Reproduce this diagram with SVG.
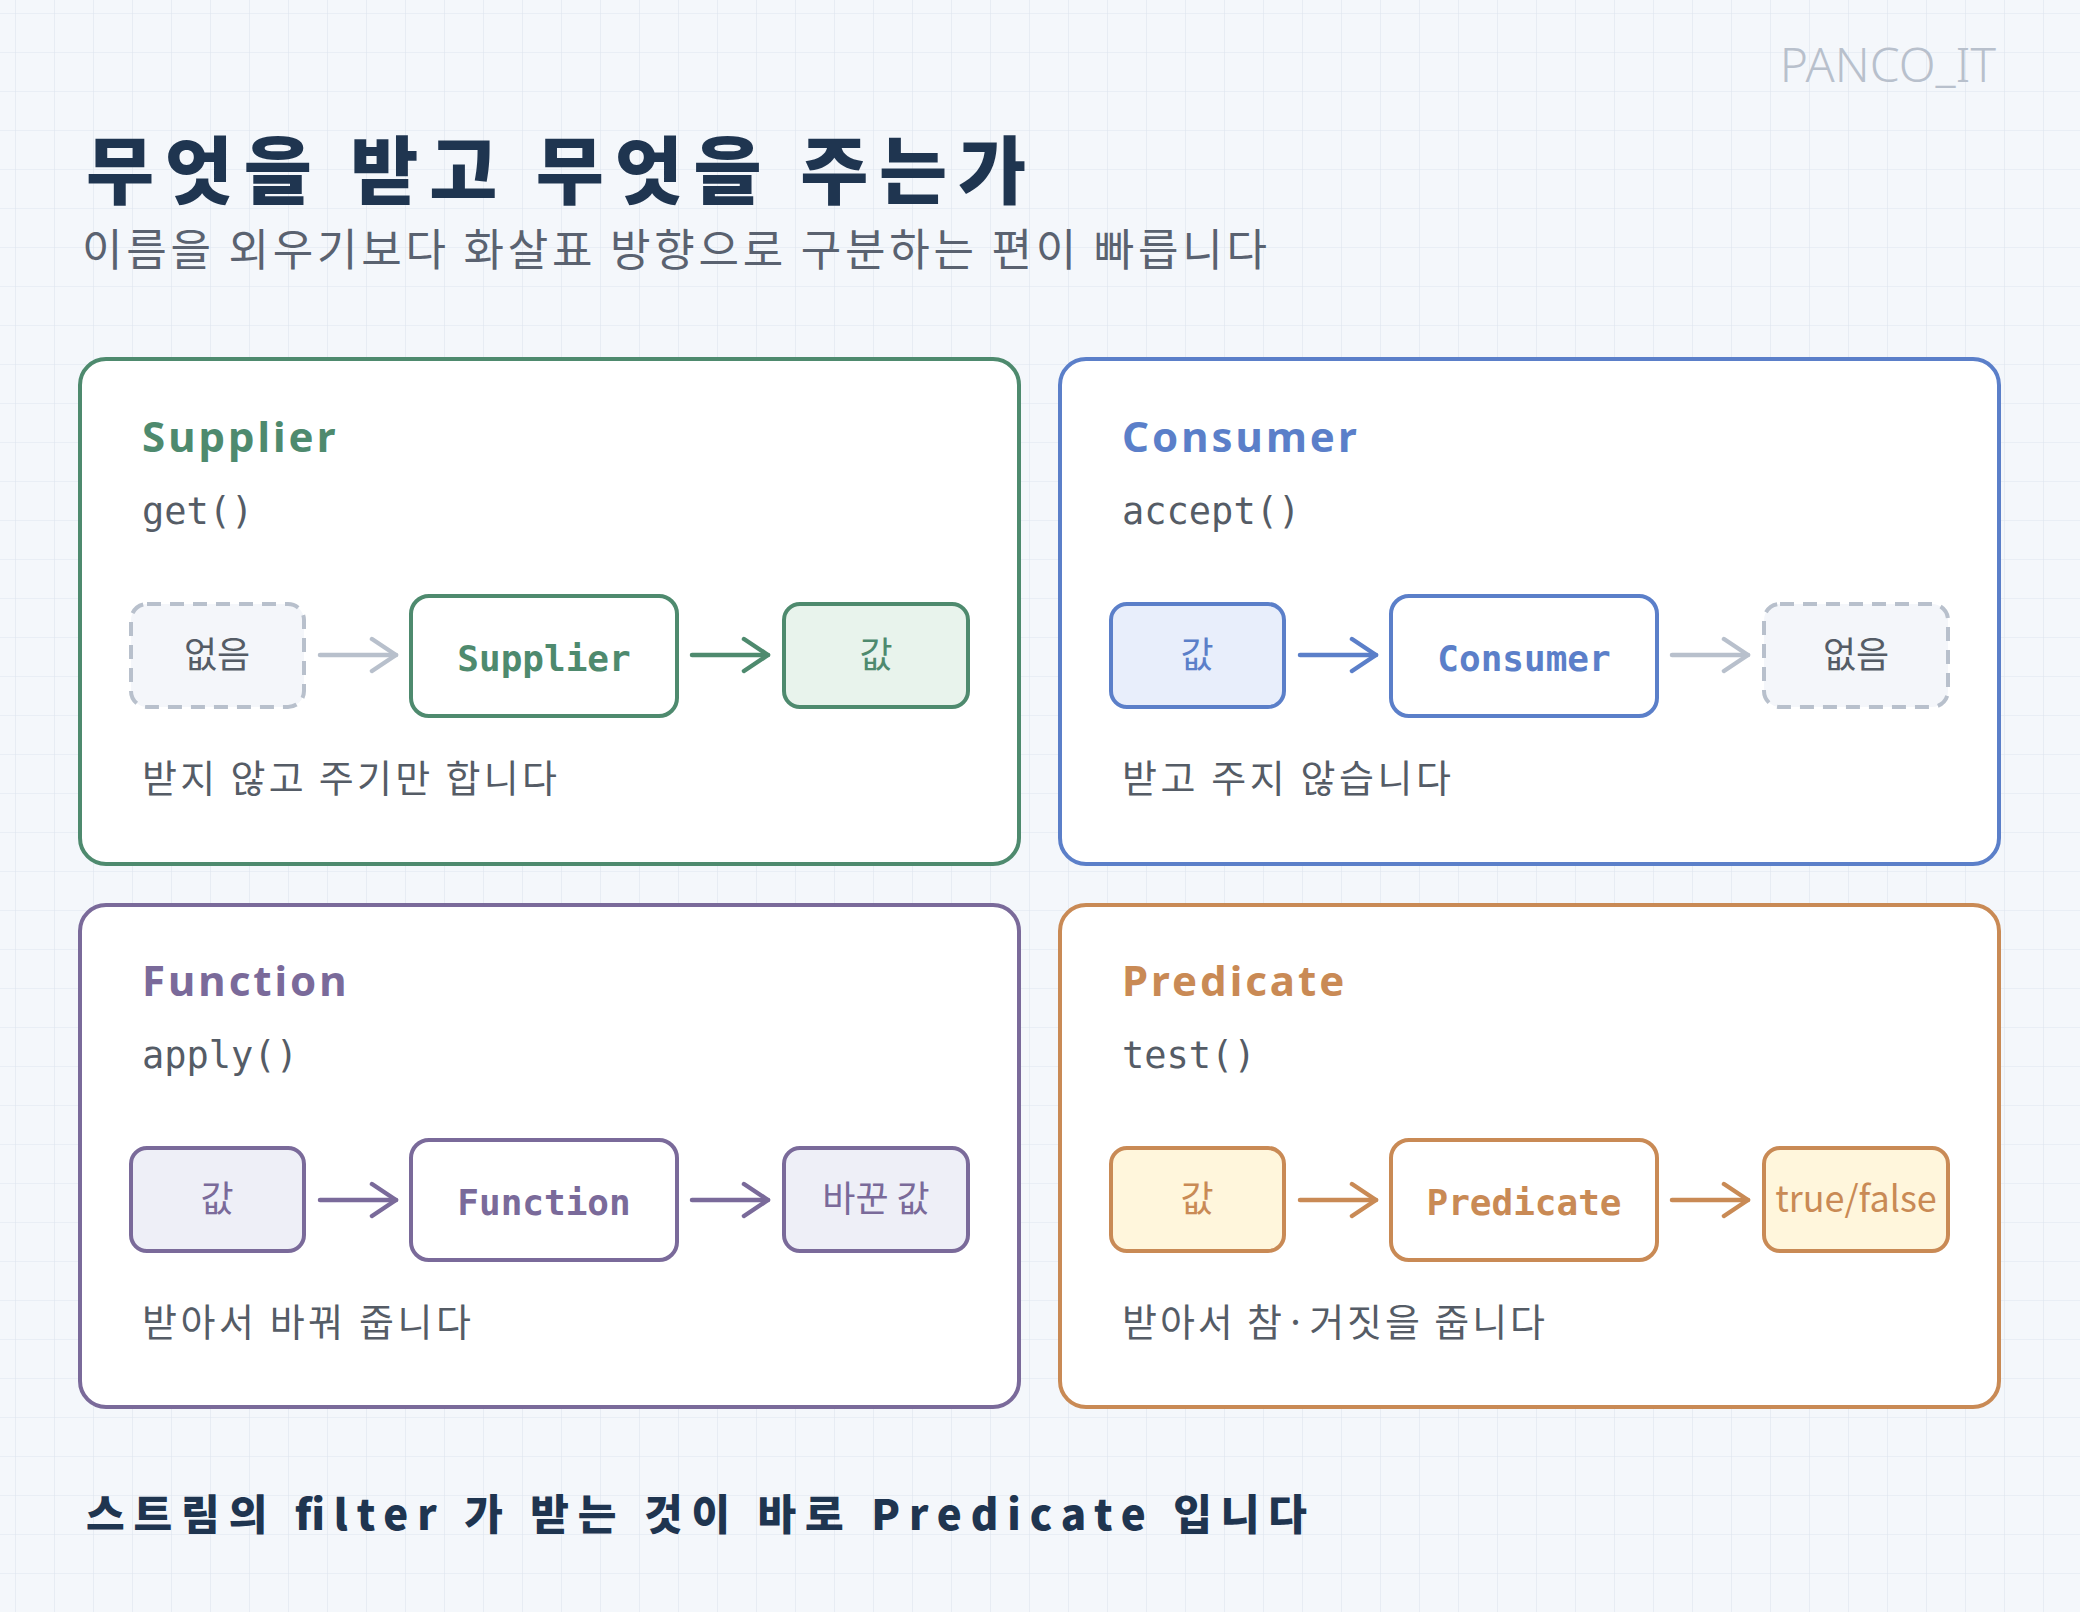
<svg xmlns="http://www.w3.org/2000/svg" width="2080" height="1612" viewBox="0 0 2080 1612">
<defs>
<pattern id="grid" width="39" height="39" patternUnits="userSpaceOnUse" x="15" y="13">
<path d="M39 0H0V39" fill="none" stroke="#dde5ef" stroke-width="1.2"/>
</pattern>
<marker id="ag" viewBox="0 0 30 40" refX="27" refY="20" markerWidth="30" markerHeight="40" markerUnits="userSpaceOnUse" orient="auto"><path d="M3 4L27 20L3 36" fill="none" stroke="context-stroke" stroke-width="4.5" stroke-linecap="round" stroke-linejoin="round"/></marker>
</defs>
<style>
.ko{font-family:"Noto Sans CJK KR","Noto Sans",sans-serif}
.title{font-family:"Noto Sans CJK KR",sans-serif;font-weight:900;fill:#1f3550}
.hand{font-family:"Noto Sans","Noto Sans CJK KR",sans-serif;font-weight:700;letter-spacing:3px}
.mono{font-family:"DejaVu Sans Mono",monospace;font-weight:700}
.panel{fill:#fff;stroke-width:4}
.box{stroke-width:4}
.lbl{font-family:"Noto Sans CJK KR","Noto Sans",sans-serif;font-size:36px;text-anchor:middle}
.method{font-family:"DejaVu Sans Mono",monospace;font-size:37px;fill:#555c66}
.cap{font-family:"Noto Sans CJK KR",sans-serif;font-size:38px;fill:#555c66}
.arr{stroke-width:4.5;stroke-linecap:round;fill:none;marker-end:url(#ag)}
</style>
<rect width="2080" height="1612" fill="#f4f7fb"/>
<rect width="2080" height="1612" fill="url(#grid)"/>
<text x="1996" y="82" font-family="Noto Sans,sans-serif" font-weight="300" font-size="48" fill="#b8c0cc" text-anchor="end">PANCO_IT</text>
<text class="title" x="86" y="198" font-size="74" textLength="940" lengthAdjust="spacing">무엇을 받고 무엇을 주는가</text>
<text class="ko" x="82" y="266" font-size="44" fill="#5a6270" textLength="1185" lengthAdjust="spacing">이름을 외우기보다 화살표 방향으로 구분하는 편이 빠릅니다</text>

<g id="supplier">
<rect class="panel" x="80" y="359" width="939" height="505" rx="26" stroke="#4e8a6e"/>
<text class="hand" x="142" y="452" font-size="42" fill="#4e8a6e">Supplier</text>
<text class="method" x="142" y="524">get()</text>
<rect class="box" x="131" y="604" width="173" height="103" rx="16" fill="#f4f6fa" stroke="#b8c0cc" stroke-dasharray="14 9"/>
<text class="lbl" x="217" y="668" fill="#555c66">없음</text>
<rect class="box" x="411" y="596" width="266" height="120" rx="18" fill="#fff" stroke="#4e8a6e"/>
<text class="mono" x="544" y="671" font-size="36" fill="#4e8a6e" text-anchor="middle">Supplier</text>
<rect class="box" x="784" y="604" width="184" height="103" rx="16" fill="#e8f3ec" stroke="#4e8a6e"/>
<text class="lbl" x="876" y="668" fill="#4e8a6e">값</text>
<text class="cap" x="142" y="792" textLength="415" lengthAdjust="spacing">받지 않고 주기만 합니다</text>
</g>

<g id="consumer">
<rect class="panel" x="1060" y="359" width="939" height="505" rx="26" stroke="#5b7fc9"/>
<text class="hand" x="1122" y="452" font-size="42" fill="#5b7fc9">Consumer</text>
<text class="method" x="1122" y="524">accept()</text>
<rect class="box" x="1111" y="604" width="173" height="103" rx="16" fill="#e8eefb" stroke="#5b7fc9"/>
<text class="lbl" x="1197" y="668" fill="#5b7fc9">값</text>
<rect class="box" x="1391" y="596" width="266" height="120" rx="18" fill="#fff" stroke="#5b7fc9"/>
<text class="mono" x="1524" y="671" font-size="36" fill="#5b7fc9" text-anchor="middle">Consumer</text>
<rect class="box" x="1764" y="604" width="184" height="103" rx="16" fill="#f4f6fa" stroke="#b8c0cc" stroke-dasharray="14 9"/>
<text class="lbl" x="1856" y="668" fill="#555c66">없음</text>
<text class="cap" x="1122" y="792" textLength="329" lengthAdjust="spacing">받고 주지 않습니다</text>
</g>

<g id="function">
<rect class="panel" x="80" y="905" width="939" height="502" rx="26" stroke="#7a6a9a"/>
<text class="hand" x="142" y="996" font-size="42" fill="#7a6a9a">Function</text>
<text class="method" x="142" y="1068">apply()</text>
<rect class="box" x="131" y="1148" width="173" height="103" rx="16" fill="#eeeff7" stroke="#7a6a9a"/>
<text class="lbl" x="217" y="1212" fill="#7a6a9a">값</text>
<rect class="box" x="411" y="1140" width="266" height="120" rx="18" fill="#fff" stroke="#7a6a9a"/>
<text class="mono" x="544" y="1215" font-size="36" fill="#7a6a9a" text-anchor="middle">Function</text>
<rect class="box" x="784" y="1148" width="184" height="103" rx="16" fill="#eeeff7" stroke="#7a6a9a"/>
<text class="lbl" x="876" y="1212" fill="#7a6a9a">바꾼 값</text>
<text class="cap" x="142" y="1336" textLength="329" lengthAdjust="spacing">받아서 바꿔 줍니다</text>
</g>

<g id="predicate">
<rect class="panel" x="1060" y="905" width="939" height="502" rx="26" stroke="#c98a55"/>
<text class="hand" x="1122" y="996" font-size="42" fill="#c98a55">Predicate</text>
<text class="method" x="1122" y="1068">test()</text>
<rect class="box" x="1111" y="1148" width="173" height="103" rx="16" fill="#fff6dc" stroke="#c98a55"/>
<text class="lbl" x="1197" y="1212" fill="#c98a55">값</text>
<rect class="box" x="1391" y="1140" width="266" height="120" rx="18" fill="#fff" stroke="#c98a55"/>
<text class="mono" x="1524" y="1215" font-size="36" fill="#c98a55" text-anchor="middle">Predicate</text>
<rect class="box" x="1764" y="1148" width="184" height="103" rx="16" fill="#fff6dc" stroke="#c98a55"/>
<text class="lbl" x="1856" y="1212" fill="#c98a55">true/false</text>
<text class="cap" x="1122" y="1336" textLength="423" lengthAdjust="spacing">받아서 참·거짓을 줍니다</text>
</g>

<g id="connectors">
<line class="arr" x1="320" y1="655" x2="396" y2="655" stroke="#b8c0cc"/>
<line class="arr" x1="692" y1="655" x2="768" y2="655" stroke="#4e8a6e"/>
<line class="arr" x1="1300" y1="655" x2="1376" y2="655" stroke="#5b7fc9"/>
<line class="arr" x1="1672" y1="655" x2="1748" y2="655" stroke="#b8c0cc"/>
<line class="arr" x1="320" y1="1200" x2="396" y2="1200" stroke="#7a6a9a"/>
<line class="arr" x1="692" y1="1200" x2="768" y2="1200" stroke="#7a6a9a"/>
<line class="arr" x1="1300" y1="1200" x2="1376" y2="1200" stroke="#c98a55"/>
<line class="arr" x1="1672" y1="1200" x2="1748" y2="1200" stroke="#c98a55"/>
</g>

<text class="title" x="86" y="1530" font-size="42" textLength="1221" lengthAdjust="spacing">스트림의 filter 가 받는 것이 바로 Predicate 입니다</text>
</svg>
